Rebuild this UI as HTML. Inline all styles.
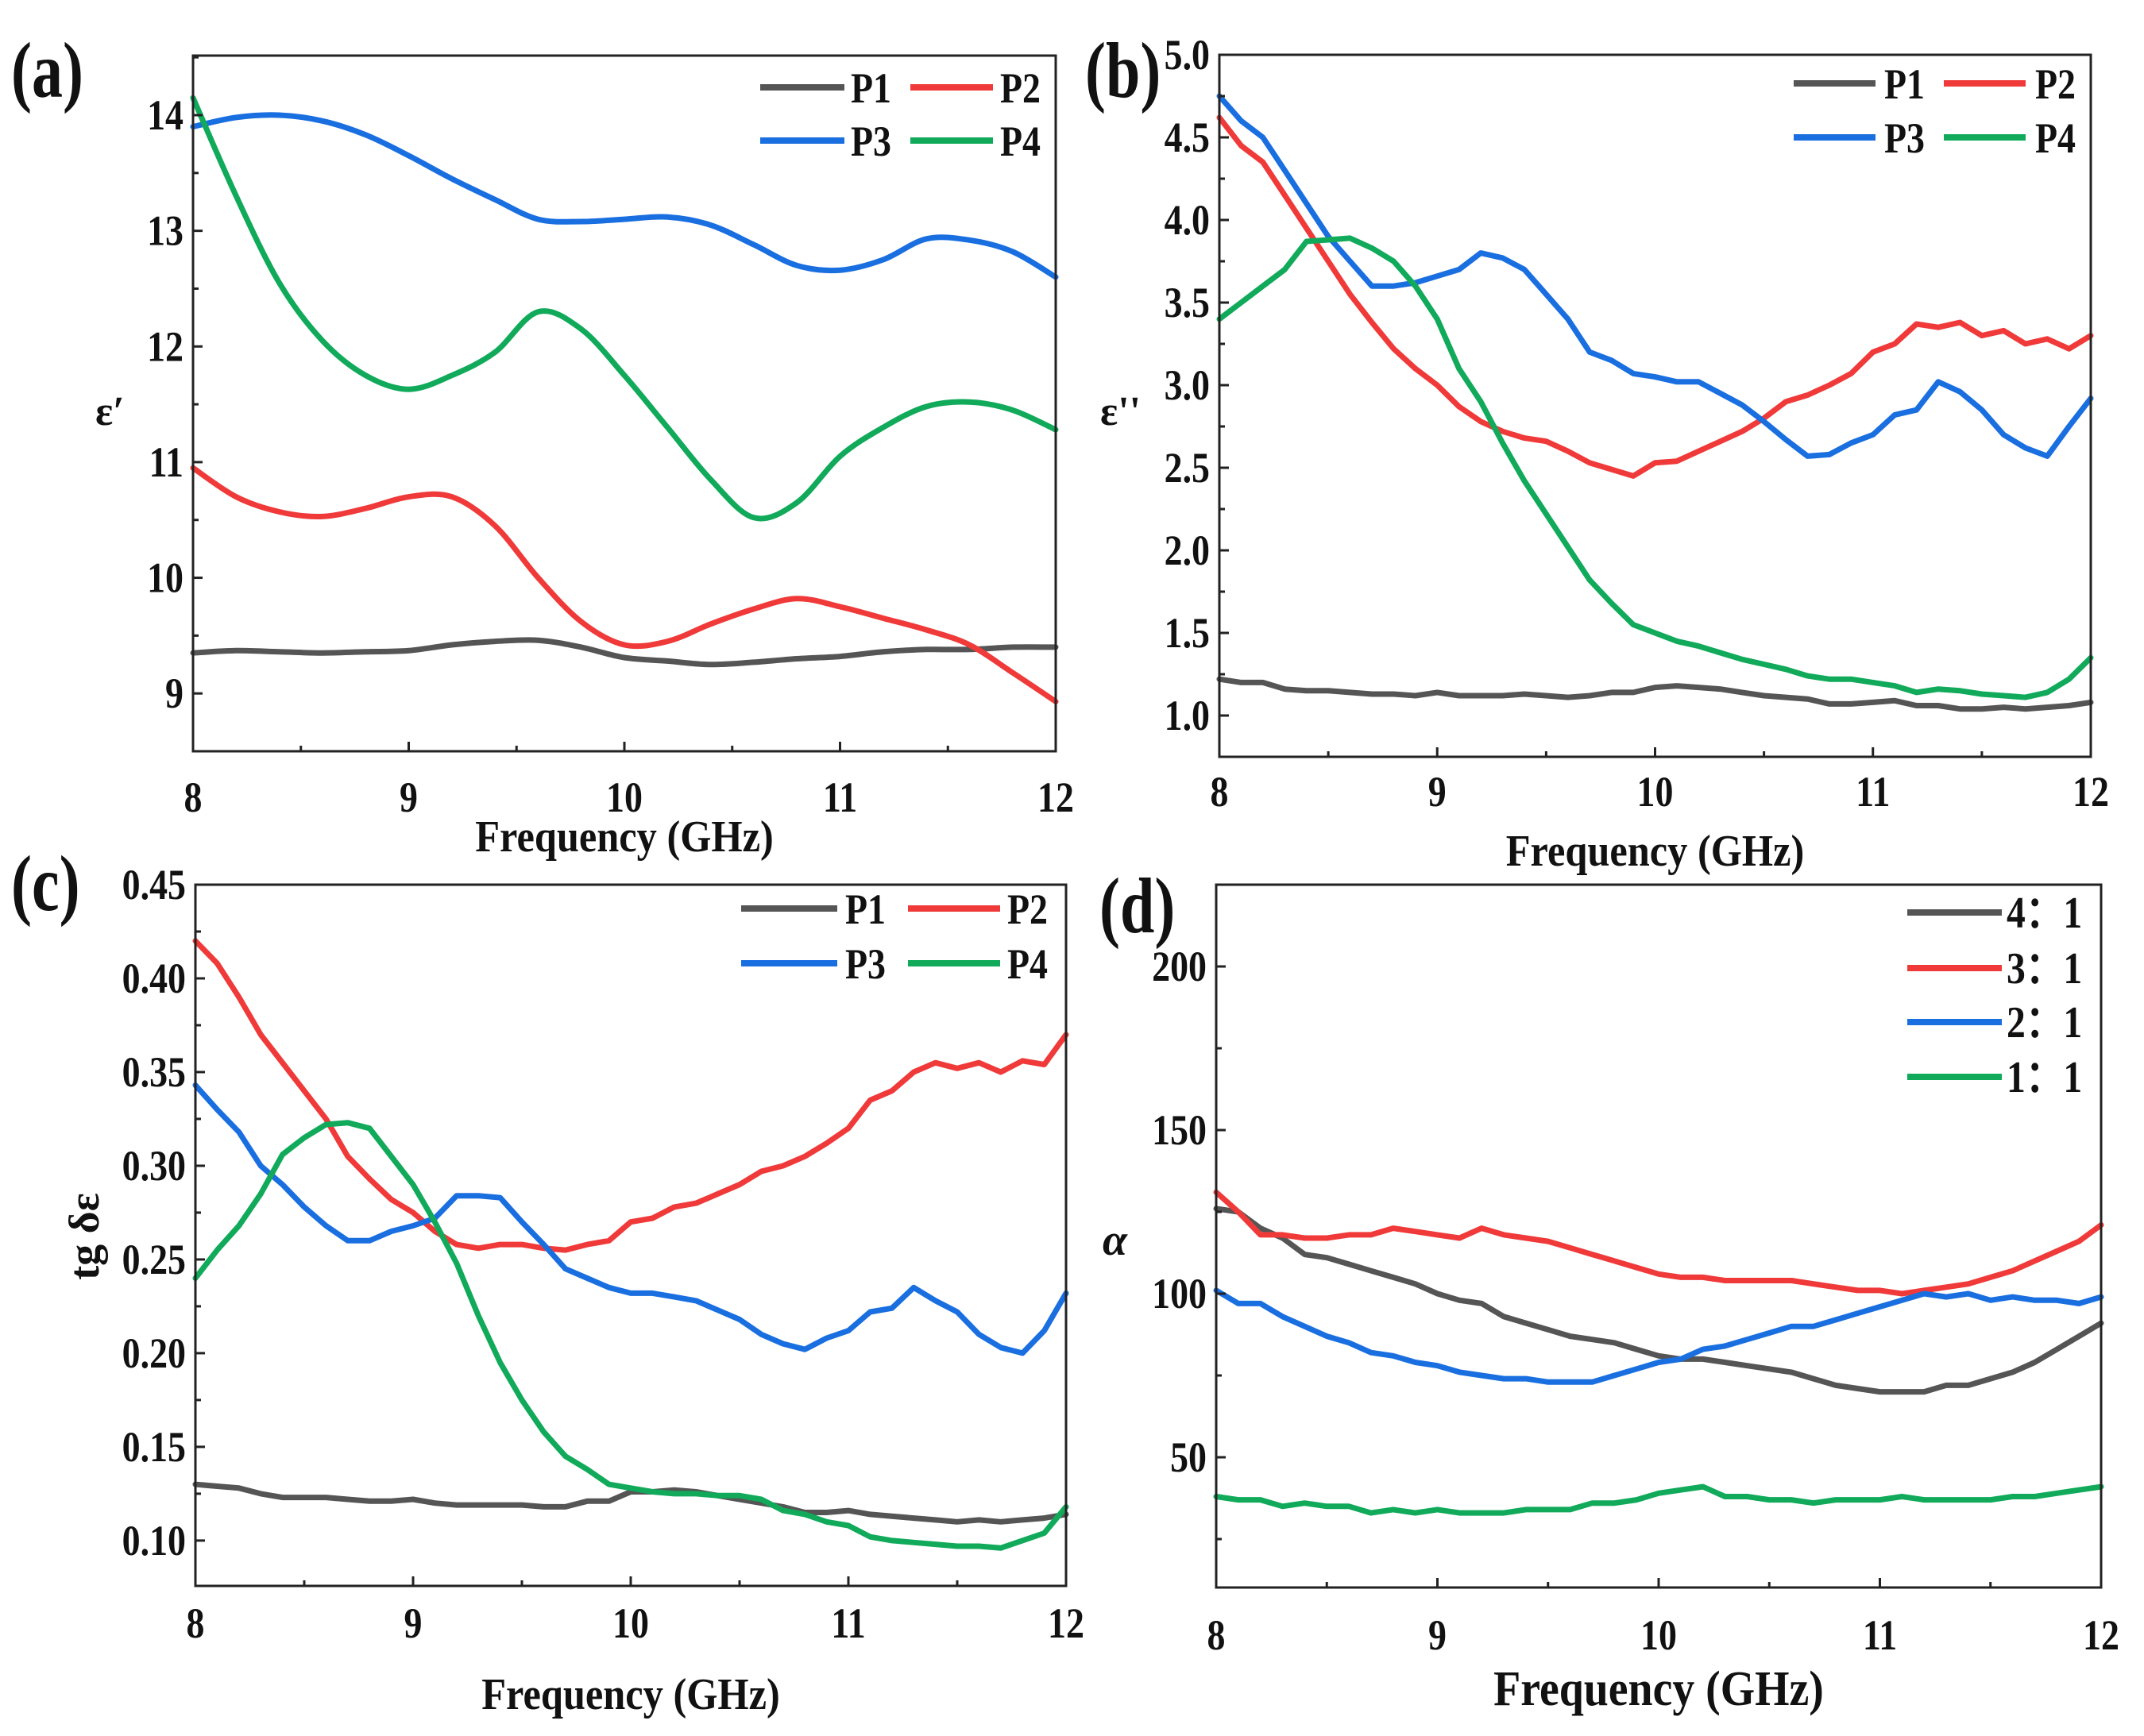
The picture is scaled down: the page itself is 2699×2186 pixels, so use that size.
<!DOCTYPE html>
<html><head><meta charset="utf-8"><style>
html,body{margin:0;padding:0;background:#fff;}
svg{display:block;font-family:"Liberation Serif",serif;font-weight:bold;}
</style></head><body>
<svg id="fig" width="2699" height="2186" viewBox="0 0 2699 2186" xmlns="http://www.w3.org/2000/svg"></svg>
<script>
const freqA = [8,8.2,8.4,8.6,8.8,9,9.2,9.4,9.6,9.8,10,10.2,10.4,10.6,10.8,11,11.2,11.4,11.6,11.8,12];
const freqB = [8,8.1,8.2,8.3,8.4,8.5,8.6,8.7,8.8,8.9,9,9.1,9.2,9.3,9.4,9.5,9.6,9.7,9.8,9.9,10,10.1,10.2,10.3,10.4,10.5,10.6,10.7,10.8,10.9,11,11.1,11.2,11.3,11.4,11.5,11.6,11.7,11.8,11.9,12];
// panel a: epsilon'
const aP1 = [9.35,9.37,9.36,9.35,9.36,9.37,9.42,9.45,9.46,9.4,9.31,9.28,9.25,9.27,9.3,9.32,9.36,9.38,9.38,9.4,9.4];
const aP2 = [10.95,10.7,10.57,10.53,10.6,10.7,10.7,10.45,10.0,9.62,9.42,9.45,9.6,9.73,9.82,9.75,9.65,9.55,9.42,9.18,8.93];
const aP3 = [13.9,13.98,14.0,13.95,13.83,13.65,13.45,13.27,13.1,13.08,13.1,13.12,13.05,12.88,12.7,12.66,12.75,12.93,12.92,12.82,12.6];
const aP4 = [14.15,13.3,12.55,12.05,11.75,11.63,11.75,11.95,12.3,12.15,11.75,11.3,10.85,10.52,10.65,11.05,11.3,11.48,11.52,11.45,11.28];
// panel b: epsilon''
const bP1 = [1.22,1.2,1.2,1.16,1.15,1.15,1.14,1.13,1.13,1.12,1.14,1.12,1.12,1.12,1.13,1.12,1.11,1.12,1.14,1.14,1.17,1.18,1.17,1.16,1.14,1.12,1.11,1.1,1.07,1.07,1.08,1.09,1.06,1.06,1.04,1.04,1.05,1.04,1.05,1.06,1.08];
const bP2 = [4.62,4.45,4.35,4.15,3.95,3.75,3.55,3.38,3.22,3.1,3.0,2.87,2.78,2.72,2.68,2.66,2.6,2.53,2.49,2.45,2.53,2.54,2.6,2.66,2.72,2.8,2.9,2.94,3.0,3.07,3.2,3.25,3.37,3.35,3.38,3.3,3.33,3.25,3.28,3.22,3.3];
const bP3 = [4.75,4.6,4.5,4.3,4.1,3.9,3.75,3.6,3.6,3.62,3.66,3.7,3.8,3.77,3.7,3.55,3.4,3.2,3.15,3.07,3.05,3.02,3.02,2.95,2.88,2.78,2.67,2.57,2.58,2.65,2.7,2.82,2.85,3.02,2.96,2.85,2.7,2.62,2.57,2.75,2.92];
const bP4 = [3.4,3.5,3.6,3.7,3.87,3.88,3.89,3.83,3.75,3.6,3.4,3.1,2.9,2.65,2.42,2.22,2.02,1.82,1.68,1.55,1.5,1.45,1.42,1.38,1.34,1.31,1.28,1.24,1.22,1.22,1.2,1.18,1.14,1.16,1.15,1.13,1.12,1.11,1.14,1.22,1.35];
// panel c: tg delta
const cP1 = [0.13,0.129,0.128,0.125,0.123,0.123,0.123,0.122,0.121,0.121,0.122,0.12,0.119,0.119,0.119,0.119,0.118,0.118,0.121,0.121,0.126,0.126,0.127,0.126,0.124,0.122,0.12,0.118,0.115,0.115,0.116,0.114,0.113,0.112,0.111,0.11,0.111,0.11,0.111,0.112,0.114];
const cP2 = [0.42,0.408,0.39,0.37,0.355,0.34,0.325,0.305,0.293,0.282,0.275,0.265,0.258,0.256,0.258,0.258,0.256,0.255,0.258,0.26,0.27,0.272,0.278,0.28,0.285,0.29,0.297,0.3,0.305,0.312,0.32,0.335,0.34,0.35,0.355,0.352,0.355,0.35,0.356,0.354,0.37];
const cP3 = [0.343,0.33,0.318,0.3,0.29,0.278,0.268,0.26,0.26,0.265,0.268,0.272,0.284,0.284,0.283,0.27,0.258,0.245,0.24,0.235,0.232,0.232,0.23,0.228,0.223,0.218,0.21,0.205,0.202,0.208,0.212,0.222,0.224,0.235,0.228,0.222,0.21,0.203,0.2,0.212,0.232];
const cP4 = [0.24,0.255,0.268,0.285,0.306,0.315,0.322,0.323,0.32,0.305,0.29,0.27,0.248,0.22,0.195,0.175,0.158,0.145,0.138,0.13,0.128,0.126,0.125,0.125,0.124,0.124,0.122,0.116,0.114,0.11,0.108,0.102,0.1,0.099,0.098,0.097,0.097,0.096,0.1,0.104,0.118];
// panel d: alpha
const d41 = [126,125,120,117,112,111,109,107,105,103,100,98,97,93,91,89,87,86,85,83,81,80,80,79,78,77,76,74,72,71,70,70,70,72,72,74,76,79,83,87,91];
const d31 = [131,125,118,118,117,117,118,118,120,119,118,117,120,118,117,116,114,112,110,108,106,105,105,104,104,104,104,103,102,101,101,100,101,102,103,105,107,110,113,116,121];
const d21 = [101,97,97,93,90,87,85,82,81,79,78,76,75,74,74,73,73,73,75,77,79,80,83,84,86,88,90,90,92,94,96,98,100,99,100,98,99,98,98,97,99];
const d11 = [38,37,37,35,36,35,35,33,34,33,34,33,33,33,34,34,34,36,36,37,39,40,41,38,38,37,37,36,37,37,37,38,37,37,37,37,38,38,39,40,41];
const xTicks = [8,9,10,11,12];
const aTicks = [9,10,11,12,13,14];
const bTicks = [1.0,1.5,2.0,2.5,3.0,3.5,4.0,4.5,5.0];
const cTicks = [0.10,0.15,0.20,0.25,0.30,0.35,0.40,0.45];
const dTicks = [50,100,150,200];
const legP = ['P1','P2','P3','P4'];
const legD = ['4：1','3：1','2：1','1：1'];

const C = ['#555555','#f03a3a','#1a6fe0','#10aa5a'];
const NS = 'http://www.w3.org/2000/svg';
const svg = document.getElementById('fig');
function mk(tag, attrs, parent){const e=document.createElementNS(NS,tag);for(const k in attrs)e.setAttribute(k,attrs[k]);(parent||svg).appendChild(e);return e;}
function txt(parent,x,y,size,anchor,sx){
  return mk('text',{x:0,y:0,'font-size':size,'text-anchor':anchor,fill:'#111',transform:'translate('+x+','+y+') scale('+sx+',1)'},parent);
}
function smoothPath(pts){
  let d='M'+pts[0][0].toFixed(1)+' '+pts[0][1].toFixed(1);
  for(let i=0;i<pts.length-1;i++){
    const p0=pts[Math.max(0,i-1)],p1=pts[i],p2=pts[i+1],p3=pts[Math.min(pts.length-1,i+2)];
    const c1=[p1[0]+(p2[0]-p0[0])/6,p1[1]+(p2[1]-p0[1])/6];
    const c2=[p2[0]-(p3[0]-p1[0])/6,p2[1]-(p3[1]-p1[1])/6];
    d+=' C'+c1[0].toFixed(1)+' '+c1[1].toFixed(1)+' '+c2[0].toFixed(1)+' '+c2[1].toFixed(1)+' '+p2[0].toFixed(1)+' '+p2[1].toFixed(1);
  }
  return d;
}

function panel(p){
  const g = mk('g',{});
  
  
  const sx = v => p.L + (v-8)/4*(p.R-p.L);
  const sy = v => p.B - (v-p.y0)/(p.y1-p.y0)*(p.B-p.T);
  p.series.forEach((s,i)=>{
    const pts = s.map((v,j)=>[sx(p.freq[j]),sy(v)]);
    const d = p.smooth ? smoothPath(pts) : pts.map((q,j)=>(j?'L':'M')+q[0].toFixed(1)+' '+q[1].toFixed(1)).join(' ');
    const path = mk('path',{d:d,fill:'none',stroke:C[i],'stroke-width':7,'stroke-linejoin':'round','stroke-linecap':'round'},g);
    
    
  });
  const fr = mk('rect',{x:p.L,y:p.T,width:p.R-p.L,height:p.B-p.T,fill:'none',stroke:'#222','stroke-width':3},g);
  
  
  xTicks.forEach((t,i)=>{
    const x = sx(t);
    mk('line',{x1:x,x2:x,y1:p.B,y2:p.B-12,stroke:'#222','stroke-width':3},g);
    if(i<xTicks.length-1){const xm=sx(t+0.5);mk('line',{x1:xm,x2:xm,y1:p.B,y2:p.B-7,stroke:'#222','stroke-width':3},g);}
    const tx = txt(g,x,p.xl,54,'middle',0.85);
    tx.textContent = t;
    
    
  });
  const step = p.ticks[1]-p.ticks[0];
  p.ticks.forEach((t,i)=>{
    const y = sy(t);
    mk('line',{x1:p.L,x2:p.L+12,y1:y,y2:y,stroke:'#222','stroke-width':3},g);
    const ym = sy(t+step/2);
    if(ym>p.T+2) mk('line',{x1:p.L,x2:p.L+7,y1:ym,y2:ym,stroke:'#222','stroke-width':3},g);
    const ym2 = sy(t-step/2);
    if(i==0 && ym2<p.B-2) mk('line',{x1:p.L,x2:p.L+7,y1:ym2,y2:ym2,stroke:'#222','stroke-width':3},g);
    const tx = txt(g,p.L-12,y+18,54,'end',0.85);
    tx.textContent = p.fmt(t);
    
    
  });
  const xt = txt(g,(p.L+p.R)/2,p.xt,p.xtSize||56,'middle',0.9);
  xt.textContent = 'Frequency (GHz)';
  
  
  const yt = mk('text',p.yt.attrs,g);
  yt.textContent = p.yt.text;
  
  
  const pl = txt(g,p.lab[0],p.lab[1],100,'start',0.78);
  pl.textContent = '('+p.id+')';
  
  
  p.leg.forEach((lg,i)=>{
    const ln = mk('line',{x1:lg[0],x2:lg[1],y1:lg[3],y2:lg[3],stroke:C[i],'stroke-width':8},g);
    
    
    const tx = txt(g,lg[2],lg[3]+19,p.legSize||54,'start',0.85);
    tx.textContent = p.legT[i];
    
    
  });
}

panel({id:'a',smooth:true,L:243,R:1329,T:70,B:946,y0:8.5,y1:14.515,freq:freqA,series:[aP1,aP2,aP3,aP4],ticks:aTicks,fmt:t=>String(t),xl:1022,xt:1072,
  yt:{text:'ε′',attrs:{x:120,y:535,'font-size':52,fill:'#111'}},lab:[14,122],
  legT:legP,leg:[[957,1063,1071,110],[1146,1250,1259,110],[957,1063,1071,177],[1146,1250,1259,177]]});
panel({id:'b',L:1535,R:2632,T:69,B:953,y0:0.75,y1:5.0,freq:freqB,series:[bP1,bP2,bP3,bP4],ticks:bTicks,fmt:t=>t.toFixed(1),xl:1015,xt:1090,
  yt:{text:'ε\'\'',attrs:{x:1385,y:535,'font-size':52,fill:'#111'}},lab:[1366,122],
  legT:legP,leg:[[2258,2361,2372,105],[2447,2550,2562,105],[2258,2361,2372,173],[2447,2550,2562,173]]});
panel({id:'c',L:246,R:1342,T:1114,B:1997,y0:0.0758,y1:0.45,freq:freqB,series:[cP1,cP2,cP3,cP4],ticks:cTicks,fmt:t=>t.toFixed(2),xl:2062,xt:2152,
  yt:{text:'tg δε',attrs:{x:0,y:0,'font-size':54,fill:'#111','text-anchor':'middle',transform:'translate(124,1557) rotate(-90)'}},lab:[14,1146],
  legT:legP,leg:[[933,1054,1064,1144],[1143,1259,1268,1144],[933,1054,1064,1213],[1143,1259,1268,1213]]});
panel({id:'d',L:1531,R:2645,T:1114,B:1999,y0:10.2,y1:225,freq:freqB,series:[d41,d31,d21,d11],ticks:dTicks,fmt:t=>String(t),xl:2077,xt:2147,xtSize:62,
  yt:{text:'α',attrs:{x:1388,y:1580,'font-size':56,fill:'#111','font-style':'italic'}},lab:[1384,1174],legSize:56,
  legT:legD,leg:[[2401,2520,2526,1149],[2401,2520,2526,1219],[2401,2520,2526,1287],[2401,2520,2526,1356]]});
</script>
</body></html>
